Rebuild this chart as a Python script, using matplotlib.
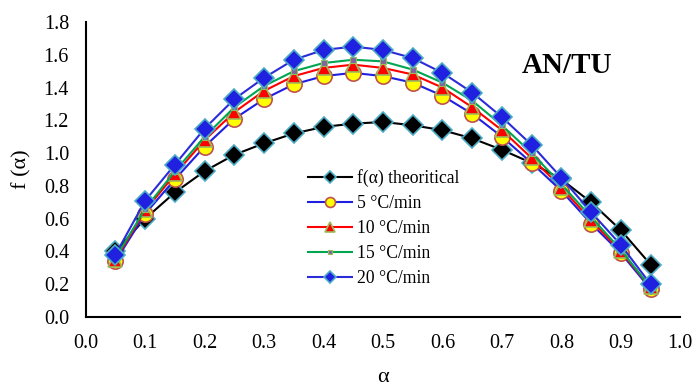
import numpy as np
import matplotlib.pyplot as plt

alpha = [0.05, 0.10, 0.15, 0.20, 0.25, 0.30, 0.35, 0.40, 0.45, 0.50,
         0.55, 0.60, 0.65, 0.70, 0.75, 0.80, 0.85, 0.90, 0.95]
f_theo = [0.40, 0.60, 0.76, 0.89, 0.99, 1.06, 1.12, 1.16, 1.18, 1.19,
          1.17, 1.14, 1.09, 1.02, 0.94, 0.84, 0.70, 0.53, 0.32]
f_5 = [0.34, 0.63, 0.84, 1.04, 1.21, 1.33, 1.42, 1.47, 1.49, 1.47,
       1.43, 1.35, 1.24, 1.10, 0.94, 0.77, 0.57, 0.39, 0.17]
f_10 = [0.35, 0.65, 0.87, 1.08, 1.25, 1.38, 1.47, 1.52, 1.54, 1.52,
        1.48, 1.40, 1.28, 1.14, 0.97, 0.79, 0.59, 0.40, 0.18]
f_15 = [0.36, 0.66, 0.89, 1.10, 1.28, 1.41, 1.50, 1.55, 1.57, 1.56,
        1.51, 1.43, 1.32, 1.17, 1.00, 0.81, 0.61, 0.41, 0.18]
f_20 = [0.38, 0.71, 0.93, 1.15, 1.33, 1.46, 1.57, 1.63, 1.65, 1.63,
        1.58, 1.49, 1.37, 1.22, 1.05, 0.85, 0.64, 0.44, 0.20]

plt.rcParams['font.family'] = ['Liberation Serif', 'DejaVu Serif']

fig = plt.figure(figsize=(6.97, 3.87), dpi=100)
ax = fig.add_axes([0.123, 0.181, 0.853, 0.762])

ax.plot(alpha, f_theo, color='black', lw=1.5, marker='D', ms=10,
        mfc='black', mec='#4BACC6', mew=1.2, label='f(α) theoritical')
ax.plot(alpha, f_5, color='#1F1FE0', lw=1.5, marker='o', ms=11,
        mfc='#FFFF00', mec='#C0504D', mew=1.2, label='5 °C/min')
ax.plot(alpha, f_10, color='#FF0000', lw=1.5, marker='^', ms=10,
        mfc='#FF0000', mec='#9BBB59', mew=1.2, label='10 °C/min')
ax.plot(alpha, f_15, color='#00A651', lw=1.5, marker='s', ms=5,
        mfc='#8064A2', mec='#9BBB59', mew=0.8, label='15 °C/min')
ax.plot(alpha, f_20, color='#2B2BD9', lw=1.5, marker='D', ms=10,
        mfc='#2020E0', mec='#4BACC6', mew=1.2, label='20 °C/min')

ax.set_xlim(0, 1.0)
ax.set_ylim(0, 1.8)
ax.set_xticks(np.arange(0, 1.01, 0.1))
ax.set_yticks(np.arange(0, 1.81, 0.2))
ax.xaxis.set_major_formatter(plt.FormatStrFormatter('%.1f'))
ax.yaxis.set_major_formatter(plt.FormatStrFormatter('%.1f'))
ax.tick_params(length=0, labelsize=14.5, pad=12)
for s in ['top', 'right']:
    ax.spines[s].set_visible(False)
for s in ['left', 'bottom']:
    ax.spines[s].set_linewidth(1.5)

ax.set_xlabel('α', fontsize=16, labelpad=11)
ax.set_ylabel('f (α)', fontsize=16, labelpad=9)

ax.text(0.81, 0.854, 'AN/TU', transform=ax.transAxes, fontsize=21,
        fontweight='bold', ha='center', va='center')

leg = ax.legend(loc='upper left', bbox_to_anchor=(0.374, 0.50), frameon=False,
                fontsize=12.7, handlelength=2.5, handletextpad=0.3,
                labelspacing=0.45, borderaxespad=0, borderpad=0)
for h in leg.legend_handles:
    h.set_markersize(h.get_markersize() * 0.65)

fig.savefig('out.png', dpi=100)
